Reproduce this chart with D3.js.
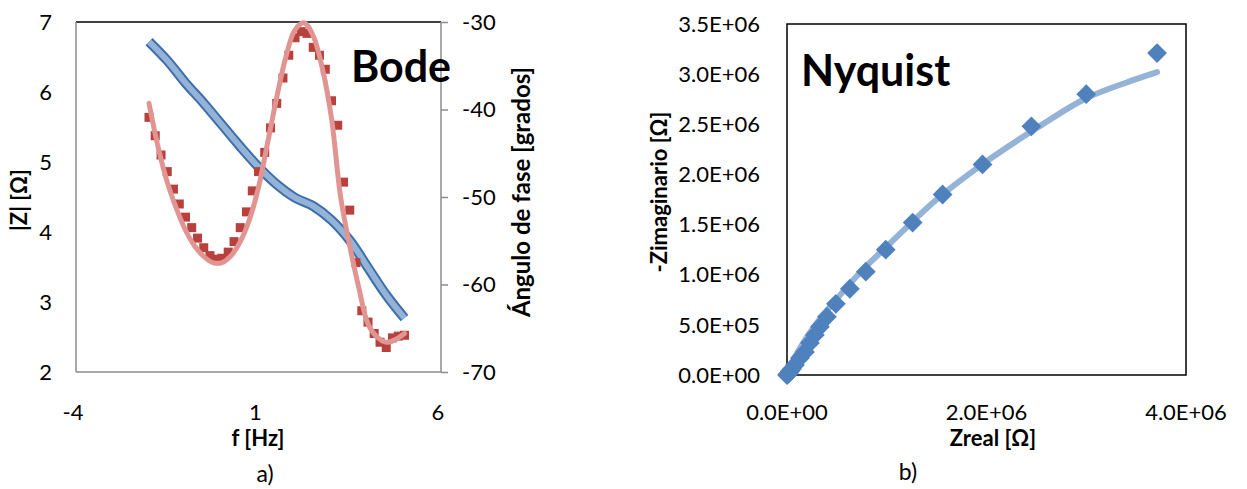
<!DOCTYPE html>
<html>
<head>
<meta charset="utf-8">
<script src="https://cdn.jsdelivr.net/npm/d3@7"></script>
<style>
  body { margin: 0; background: #fff; }
  text { font-family: Lato, "Open Sans", sans-serif; fill: #000; }
</style>
</head>
<body>
<script>
// ---- Bode data (log10 f) ----
const modLogF = [-2, -1.5, -1, -0.5, 0, 0.5, 1, 1.5, 2, 2.5, 3, 3.5, 4, 4.5, 5];
const modZ    = [6.72, 6.45, 6.13, 5.84, 5.53, 5.22, 4.93, 4.68, 4.49, 4.37, 4.17, 3.88, 3.49, 3.10, 2.77];

const phaseLogF = [-2, -1.83, -1.67, -1.5, -1.33, -1.17, -1, -0.83, -0.67, -0.5, -0.33, -0.17, 0,
  0.17, 0.33, 0.5, 0.67, 0.83, 1, 1.17, 1.33, 1.5, 1.67, 1.83, 2, 2.17, 2.33, 2.5, 2.67, 2.83,
  3, 3.17, 3.33, 3.5, 3.67, 3.83, 4, 4.17, 4.33, 4.5, 4.67, 4.83, 5];
const phaseMeas = [-40.9, -43.0, -45.2, -47.1, -49.1, -50.8, -52.3, -53.5, -54.7, -55.8, -56.7, -57.1, -57.0,
  -56.3, -55.1, -53.5, -51.7, -49.3, -47.1, -44.9, -42.1, -39.3, -36.4, -33.8, -31.8, -31.1, -31.3, -32.9, -33.8, -35.4,
  -39.0, -41.8, -48.3, -51.5, -57.5, -63.0, -64.3, -65.6, -66.6, -67.2, -66.1, -65.9, -65.8];

const fitLogF  = [-2, -1.75, -1.5, -1.25, -1, -0.75, -0.5, -0.25, 0, 0.25, 0.5, 0.75, 1, 1.25, 1.5,
  1.75, 2, 2.25, 2.5, 2.75, 3, 3.25, 3.5, 3.75, 4, 4.25, 4.5, 4.75, 5];
const fitPhase = [-39.3, -44.3, -48.3, -51.3, -53.8, -55.6, -56.8, -57.5, -57.5, -56.7, -55.1, -52.6, -48.9, -43.8, -38.6,
  -34.0, -30.9, -30.1, -31.6, -35.3, -41.0, -50.0, -55.6, -60.4, -64.5, -66.0, -66.6, -66.3, -65.6];

const bodeXTicks = [-4, 1, 6];
const modTicks = [2, 3, 4, 5, 6, 7];
const phaseTicks = [-70, -60, -50, -40, -30];

// ---- Nyquist data (Ohm) ----
const zReal = [3.71e6, 3.00e6, 2.45e6, 1.96e6, 1.56e6, 1.26e6, 0.99e6, 0.79e6, 0.63e6, 0.49e6, 0.40e6,
  0.33e6, 0.28e6, 0.23e6, 0.18e6, 0.13e6, 0.08e6, 0.05e6, 0.03e6, 0.02e6, 0.01e6, 0];
const zImag = [3.21e6, 2.80e6, 2.48e6, 2.10e6, 1.80e6, 1.52e6, 1.25e6, 1.03e6, 0.86e6, 0.71e6, 0.58e6,
  0.48e6, 0.40e6, 0.32e6, 0.23e6, 0.17e6, 0.10e6, 0.06e6, 0.04e6, 0.02e6, 0.01e6, 0];
const fitReal = [0, 0.05e6, 0.15e6, 0.30e6, 0.50e6, 0.75e6, 1.0e6, 1.5e6, 2.0e6, 2.5e6, 3.0e6, 3.5e6, 3.71e6];
const fitImag = [0, 0.12e6, 0.30e6, 0.52e6, 0.76e6, 1.04e6, 1.28e6, 1.75e6, 2.13e6, 2.46e6, 2.76e6, 2.95e6, 3.02e6];

const nyqXTicks = [0, 2e6, 4e6];
const nyqYTicks = [0, 0.5e6, 1e6, 1.5e6, 2e6, 2.5e6, 3e6, 3.5e6];

const width = 1247, height = 489;
const svg = d3.select("body").append("svg").attr("width", width).attr("height", height);

function fmtE(v) {
  let parts = v.toExponential(1).split("e");
  let e = parts[1];
  return parts[0] + "E" + e[0] + String(Math.abs(+e)).padStart(2, "0");
}

// ================= Bode =================
const bx = d3.scaleLinear().domain([-4, 6]).range([76, 441]);
const byL = d3.scaleLinear().domain([2, 7]).range([372, 22]);
const byR = d3.scaleLinear().domain([-70, -30]).range([372, 22]);

const gB = svg.append("g");

gB.append("line").attr("x1", bx(-4)).attr("x2", bx(6)).attr("y1", 22).attr("y2", 22)
  .attr("stroke", "#000").attr("stroke-width", 1.5);
gB.append("line").attr("x1", bx(-4)).attr("x2", bx(-4)).attr("y1", 22).attr("y2", 372)
  .attr("stroke", "#8c8c8c").attr("stroke-width", 1.5);
gB.append("line").attr("x1", bx(-4)).attr("x2", bx(6)).attr("y1", 372).attr("y2", 372)
  .attr("stroke", "#8c8c8c").attr("stroke-width", 1.5);

// right axis
gB.append("g").attr("transform", "translate(" + bx(6) + ",0)")
  .call(d3.axisRight(byR).tickValues(phaseTicks).tickFormat(d => String(d)).tickSize(7).tickPadding(14))
  .call(g => g.selectAll("path,line").attr("stroke", "#8c8c8c").attr("stroke-width", 1.5))
  .call(g => g.selectAll("text").style("font-size", "22px").attr("fill", "#000"))
  .select(".domain").attr("d", "M0," + byR(-30) + "V" + byR(-70));

gB.selectAll("text.yl").data(modTicks).enter().append("text")
  .attr("x", 52).attr("y", d => byL(d)).attr("dy", "0.35em")
  .attr("text-anchor", "end").style("font-size", "22px").text(d => d);

gB.selectAll("text.xl").data(bodeXTicks).enter().append("text")
  .attr("x", d => bx(d) - 3).attr("y", 420)
  .attr("text-anchor", "middle").style("font-size", "22px").text(d => d);

// |Z| line
const modLine = d3.line().x((d, i) => bx(modLogF[i])).y(d => byL(d)).curve(d3.curveCatmullRom);
gB.append("path").attr("d", modLine(modZ)).attr("fill", "none")
  .attr("stroke", "#3f6ea9").attr("stroke-width", 10);
gB.append("path").attr("d", modLine(modZ)).attr("fill", "none")
  .attr("stroke", "#94b3d8").attr("stroke-width", 6);

// phase markers
gB.selectAll("rect.ph").data(phaseMeas).enter().append("rect")
  .attr("x", (d, i) => bx(phaseLogF[i]) - 4.5).attr("y", d => byR(d) - 4.5)
  .attr("width", 9).attr("height", 9).attr("fill", "#b9413d");

// phase fit
const fitLine = d3.line().x((d, i) => bx(fitLogF[i])).y(d => byR(d)).curve(d3.curveCatmullRom);
gB.append("path").attr("d", fitLine(fitPhase)).attr("fill", "none")
  .attr("stroke", "#e09592").attr("stroke-width", 5).attr("stroke-linecap", "round");

gB.append("text").attr("x", 351).attr("y", 82).style("font-size", "43px").style("font-weight", "bold").text("Bode");

gB.append("text").attr("x", 258).attr("y", 446).attr("text-anchor", "middle")
  .style("font-size", "22px").style("font-weight", "bold").text("f [Hz]");
gB.append("text").attr("transform", "translate(27,200) rotate(-90)").attr("text-anchor", "middle")
  .style("font-size", "22px").style("font-weight", "bold").text("|Z| [Ω]");
gB.append("text").attr("transform", "translate(530,192) rotate(-90)").attr("text-anchor", "middle")
  .style("font-size", "24px").style("font-weight", "bold").text("Ángulo de fase [grados]");
gB.append("text").attr("x", 265).attr("y", 482).attr("text-anchor", "middle")
  .style("font-size", "23px").text("a)");

// ================= Nyquist =================
const nx = d3.scaleLinear().domain([0, 4e6]).range([787, 1186]);
const ny = d3.scaleLinear().domain([0, 3.5e6]).range([375, 24]);

const gN = svg.append("g");
gN.append("rect").attr("x", nx(0)).attr("y", ny(3.5e6)).attr("width", nx(4e6) - nx(0)).attr("height", ny(0) - ny(3.5e6))
  .attr("fill", "none").attr("stroke", "#000").attr("stroke-width", 1.5);

gN.selectAll("text.yl").data(nyqYTicks).enter().append("text")
  .attr("x", 760).attr("y", d => ny(d)).attr("dy", "0.35em")
  .attr("text-anchor", "end").style("font-size", "22px").text(fmtE);

gN.selectAll("text.xl").data(nyqXTicks).enter().append("text")
  .attr("x", d => nx(d)).attr("y", 420)
  .attr("text-anchor", "middle").style("font-size", "22px").text(fmtE);

const nLine = d3.line().x((d, i) => nx(fitReal[i])).y(d => ny(d)).curve(d3.curveCatmullRom);
gN.append("path").attr("d", nLine(fitImag)).attr("fill", "none")
  .attr("stroke", "#95b3d7").attr("stroke-width", 6).attr("stroke-linecap", "round");

gN.selectAll("rect.pt").data(zImag).enter().append("rect")
  .attr("x", -7).attr("y", -7).attr("width", 14).attr("height", 14)
  .attr("transform", (d, i) => "translate(" + nx(zReal[i]) + "," + ny(d) + ") rotate(45)")
  .attr("fill", "#4f81bd");

gN.append("text").attr("x", 801).attr("y", 86).style("font-size", "43px").style("font-weight", "bold").text("Nyquist");

gN.append("text").attr("x", 993).attr("y", 446).attr("text-anchor", "middle")
  .style("font-size", "22px").style("font-weight", "bold").text("Zreal [Ω]");
gN.append("text").attr("transform", "translate(667,192) rotate(-90)").attr("text-anchor", "middle")
  .style("font-size", "22px").style("font-weight", "bold").text("-Zimaginario [Ω]");
gN.append("text").attr("x", 908).attr("y", 480).attr("text-anchor", "middle")
  .style("font-size", "23px").text("b)");
</script>
</body>
</html>
